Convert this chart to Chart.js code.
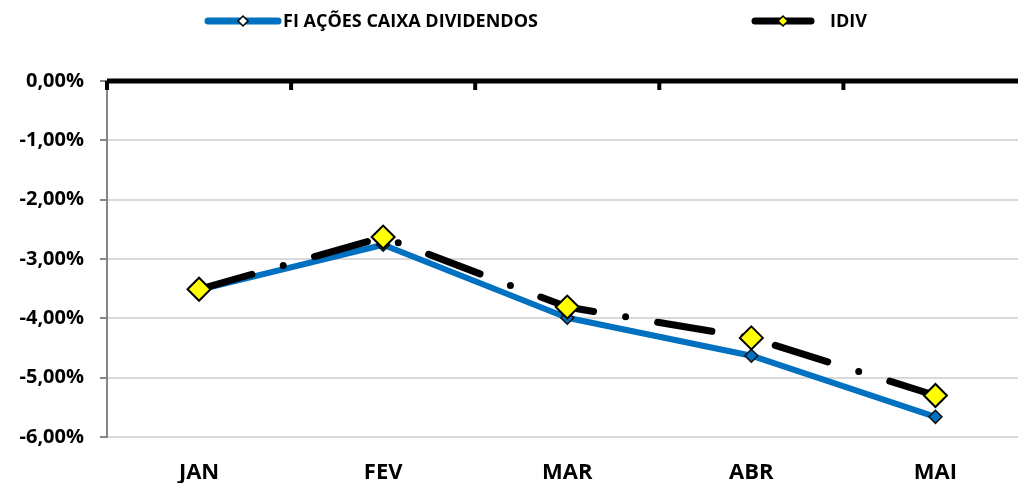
<!DOCTYPE html>
<html>
<head>
<meta charset="utf-8">
<script src="https://cdn.jsdelivr.net/npm/chart.js@4"></script>
<style>
  html, body { margin: 0; padding: 0; background: #fff; }
  .wrap { width: 1018px; height: 483px; overflow: hidden; }
  canvas { display: block; }
</style>
</head>
<body>
<div class="wrap"><canvas id="chart" width="1041" height="483" style="width:1041px;height:483px"></canvas></div>
<script>
const months = ["JAN", "FEV", "MAR", "ABR", "MAI"];
const fiValues = [-3.52, -2.76, -3.99, -4.63, -5.66];
const idivValues = [-3.51, -2.63, -3.81, -4.33, -5.30];
const seriesNames = ["FI AÇÕES CAIXA DIVIDENDOS", "IDIV"];
const yTicks = [0, -1, -2, -3, -4, -5, -6];

const FONT = "'Open Sans', 'Liberation Sans', sans-serif";
const BLUE = "#0070C0";

document.addEventListener("DOMContentLoaded", function () {
  // thick axis line along 0% with category tick marks pointing down
  const topAxis = {
    id: "topAxis",
    beforeDatasetsDraw(chart) {
      const { ctx, chartArea, scales } = chart;
      const y0 = scales.y.getPixelForValue(0);
      ctx.save();
      ctx.strokeStyle = "#000";
      ctx.lineWidth = 5;
      ctx.beginPath();
      ctx.moveTo(chartArea.left, y0);
      ctx.lineTo(chartArea.right, y0);
      ctx.stroke();
      const step = scales.x.getPixelForValue(1) - scales.x.getPixelForValue(0);
      ctx.lineWidth = 4;
      for (let i = 0; i <= months.length; i++) {
        const bx = scales.x.getPixelForValue(i) - step / 2;
        ctx.beginPath();
        ctx.moveTo(bx, y0);
        ctx.lineTo(bx, y0 + 9);
        ctx.stroke();
      }
      ctx.restore();
    },
  };

  const drawDiamond = (ctx, x, y, r, fill) => {
    ctx.beginPath();
    ctx.moveTo(x, y - r);
    ctx.lineTo(x + r, y);
    ctx.lineTo(x, y + r);
    ctx.lineTo(x - r, y);
    ctx.closePath();
    ctx.fillStyle = fill;
    ctx.fill();
    ctx.lineWidth = 1.5;
    ctx.strokeStyle = "#000";
    ctx.stroke();
  };

  const legendBox = {
    id: "legendBox",
    afterDraw(chart) {
      const ctx = chart.ctx;
      const items = [
        { x: 208, w: 70, tx: 283, color: BLUE, fill: "#ffffff", r: 5, text: seriesNames[0] },
        { x: 755, w: 56, tx: 830, color: "#000", fill: "#FFFF00", r: 5, text: seriesNames[1] },
      ];
      const y = 21;
      ctx.save();
      items.forEach((it) => {
        ctx.strokeStyle = it.color;
        ctx.lineWidth = 7;
        ctx.lineCap = "round";
        ctx.beginPath();
        ctx.moveTo(it.x, y);
        ctx.lineTo(it.x + it.w, y);
        ctx.stroke();
        drawDiamond(ctx, it.x + it.w / 2, y, it.r, it.fill);
        ctx.fillStyle = "#000";
        ctx.font = "bold 18px " + FONT;
        ctx.textBaseline = "middle";
        ctx.textAlign = "left";
        ctx.fillText(it.text, it.tx, y + 1);
      });
      ctx.restore();
    },
  };

  new Chart(document.getElementById("chart"), {
    type: "line",
    data: {
      labels: months,
      datasets: [
        {
          label: seriesNames[0],
          data: fiValues,
          borderColor: BLUE,
          borderWidth: 6,
          borderJoinStyle: "round",
          pointStyle: "rectRot",
          pointRadius: 6.5,
          pointBackgroundColor: BLUE,
          pointBorderColor: "#111",
          pointBorderWidth: 1.5,
          tension: 0,
          order: 1,
        },
        {
          label: seriesNames[1],
          data: idivValues,
          borderColor: "#000",
          borderWidth: 7,
          borderDash: [55, 32.5, 0, 32.5],
          borderCapStyle: "round",
          borderJoinStyle: "round",
          pointStyle: "rectRot",
          pointRadius: 11.5,
          pointBackgroundColor: "#FFFF00",
          pointBorderColor: "#000",
          pointBorderWidth: 2,
          tension: 0,
          order: 0,
        },
      ],
    },
    options: {
      responsive: false,
      animation: false,
      events: [],
      layout: { padding: { top: 81, right: 2, left: 0, bottom: 0 } },
      plugins: {
        legend: { display: false },
        tooltip: { enabled: false },
      },
      scales: {
        x: {
          offset: true,
          grid: { display: false },
          border: { display: false },
          ticks: {
            color: "#000",
            padding: 15,
            font: { family: FONT, size: 22, weight: "bold" },
          },
          afterFit(scale) {
            scale.height = 46;
          },
        },
        y: {
          min: -6,
          max: 0,
          afterBuildTicks(scale) {
            scale.ticks = yTicks.map((v) => ({ value: v }));
          },
          border: { display: true, color: "#868686", width: 2 },
          grid: {
            color: "#d9d9d9",
            lineWidth: 2,
            borderDash: [7, 4],
            tickLength: 7,
            tickColor: "#868686",
            tickBorderDash: [],
            tickWidth: 2,
          },
          ticks: {
            color: "#000",
            padding: 16,
            font: { family: FONT, size: 20, weight: "bold" },
            callback: (v) => v.toFixed(2).replace(".", ",") + "%",
          },
          afterFit(scale) {
            scale.width = 107;
          },
        },
      },
    },
    plugins: [topAxis, legendBox],
  });
});
</script>
</body>
</html>
